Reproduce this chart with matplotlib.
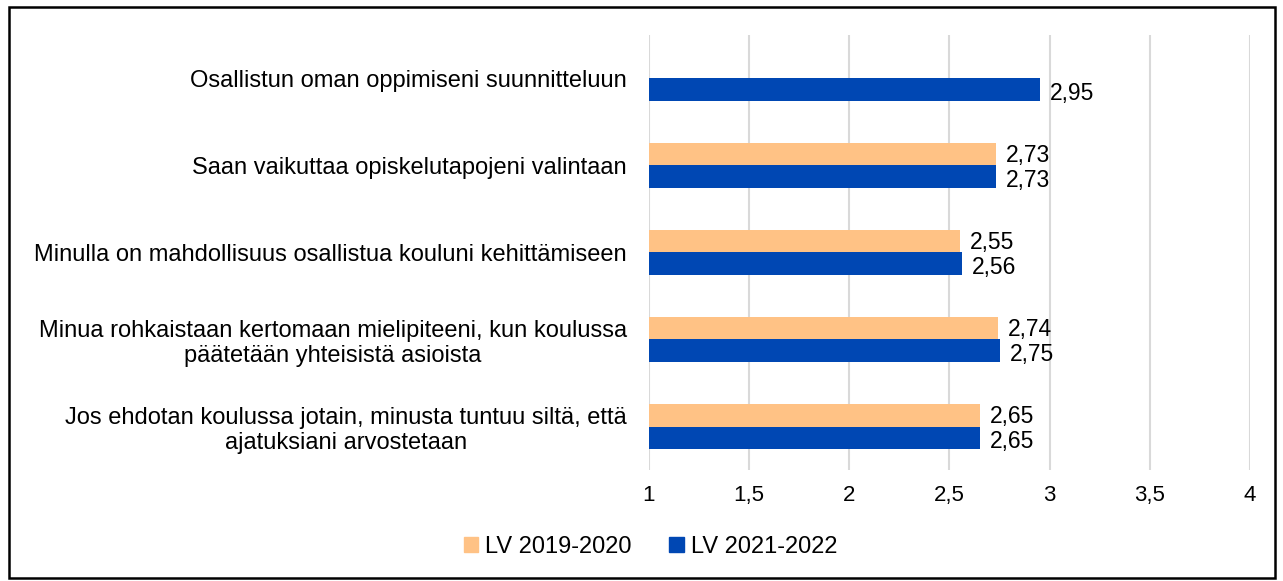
import numpy as np
import matplotlib.pyplot as plt
from matplotlib.patches import Rectangle, Patch

plt.rcParams['font.family'] = ['Liberation Sans', 'DejaVu Sans']

categories = [
    'Osallistun oman oppimiseni suunnitteluun',
    'Saan vaikuttaa opiskelutapojeni valintaan',
    'Minulla on mahdollisuus osallistua kouluni kehittämiseen',
    'Minua rohkaistaan kertomaan mielipiteeni, kun koulussa\npäätetään yhteisistä asioista',
    'Jos ehdotan koulussa jotain, minusta tuntuu siltä, että\najatuksiani arvostetaan',
]
lv_2019 = [np.nan, 2.73, 2.55, 2.74, 2.65]
lv_2021 = [2.95, 2.73, 2.56, 2.75, 2.65]
xticks = [1, 1.5, 2, 2.5, 3, 3.5, 4]
xticklabels = ['1', '1,5', '2', '2,5', '3', '3,5', '4']

c_orange = '#FFC285'
c_blue = '#0047B3'

fig = plt.figure(figsize=(12.83, 5.81), dpi=100)
ax = fig.add_axes([0.5058, 0.191, 0.4685, 0.749])

y = np.arange(len(categories))
h = 0.26

for i in range(len(categories)):
    if not np.isnan(lv_2019[i]):
        ax.barh(y[i] - h / 2, lv_2019[i] - 1, left=1, height=h, color=c_orange, zorder=3)
        ax.text(lv_2019[i] + 0.05, y[i] - h / 2 + 0.02, ('%.2f' % lv_2019[i]).replace('.', ','),
                va='center', ha='left', fontsize=16.5)
    ax.barh(y[i] + h / 2, lv_2021[i] - 1, left=1, height=h, color=c_blue, zorder=3)
    ax.text(lv_2021[i] + 0.05, y[i] + h / 2 + 0.04, ('%.2f' % lv_2021[i]).replace('.', ','),
            va='center', ha='left', fontsize=16.5)

ax.set_xlim(1, 4)
ax.set_ylim(len(categories) - 0.5, -0.5)
ax.set_xticks(xticks)
ax.set_xticklabels(xticklabels, fontsize=16, va='center')
ax.set_yticks(y)
ax.set_yticklabels(categories, fontsize=17, ha='right', multialignment='center')
ax.tick_params(axis='x', length=0, pad=18)
ax.tick_params(axis='y', length=0, pad=16)
ax.grid(axis='x', color='#d9d9d9', linewidth=1.5, zorder=0)
for s in ax.spines.values():
    s.set_visible(False)

# legend
handles = [Patch(color=c_orange, label='LV 2019-2020'), Patch(color=c_blue, label='LV 2021-2022')]
fig.legend(handles=handles, loc='center', bbox_to_anchor=(0.507, 0.058), ncol=2, frameon=False,
           fontsize=17, handlelength=0.6, handleheight=0.6, handletextpad=0.3, columnspacing=1.6)

# border around the chart
fig.patches.append(Rectangle((0.007, 0.006), 0.987, 0.982, transform=fig.transFigure,
                             fill=False, edgecolor='black', linewidth=1.8))

fig.savefig('out.png', dpi=100)
